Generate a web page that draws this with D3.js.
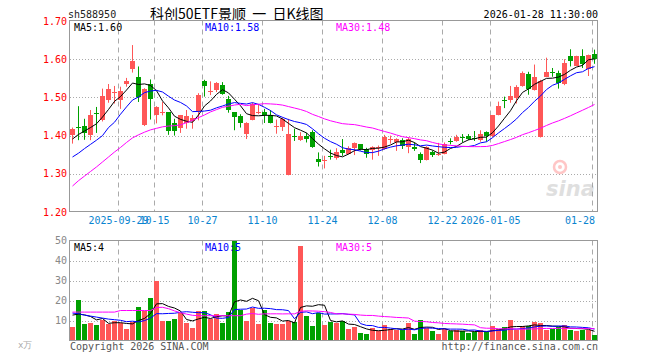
<!DOCTYPE html>
<html>
<head>
<meta charset="utf-8">
<script src="https://cdn.jsdelivr.net/npm/d3@7.9.0/dist/d3.min.js"></script>
<style>
  body { margin: 0; background: #fff; }
  text { font-family: "DejaVu Sans Mono", monospace; font-size: 10px; }
</style>
</head>
<body>
<svg id="chart" width="660" height="360"></svg>
<script>
// trading days shown on the chart
const dates = [
  '2025-09-17','2025-09-18','2025-09-19','2025-09-22','2025-09-23','2025-09-24','2025-09-25','2025-09-26','2025-09-29','2025-09-30',
  '2025-10-09','2025-10-10','2025-10-13','2025-10-14','2025-10-15','2025-10-16','2025-10-17','2025-10-20','2025-10-21','2025-10-22',
  '2025-10-23','2025-10-24','2025-10-27','2025-10-28','2025-10-29','2025-10-30','2025-10-31',
  '2025-11-03','2025-11-04','2025-11-05','2025-11-06','2025-11-07','2025-11-10','2025-11-11','2025-11-12','2025-11-13','2025-11-14',
  '2025-11-17','2025-11-18','2025-11-19','2025-11-20','2025-11-21','2025-11-24','2025-11-25','2025-11-26','2025-11-27','2025-11-28',
  '2025-12-01','2025-12-02','2025-12-03','2025-12-04','2025-12-05','2025-12-08','2025-12-09','2025-12-10','2025-12-11','2025-12-12',
  '2025-12-15','2025-12-16','2025-12-17','2025-12-18','2025-12-19','2025-12-22','2025-12-23','2025-12-24','2025-12-25','2025-12-26',
  '2025-12-29','2025-12-30','2025-12-31',
  '2026-01-05','2026-01-06','2026-01-07','2026-01-08','2026-01-09','2026-01-12','2026-01-13','2026-01-14','2026-01-15','2026-01-16',
  '2026-01-19','2026-01-20','2026-01-21','2026-01-22','2026-01-23','2026-01-26','2026-01-27','2026-01-28'
];

const open = [
  1.401,1.423,1.425,1.400,1.459,1.440,1.493,1.512,1.493,1.533,
  1.575,1.554,1.428,1.535,1.453,1.460,1.461,1.432,1.418,1.433,
  1.440,1.465,1.542,1.517,1.519,1.532,1.495,
  1.461,1.451,1.404,1.442,1.461,1.461,1.453,1.424,1.423,1.298,
  1.398,1.389,1.398,1.409,1.340,1.335,1.346,1.339,1.361,1.353,
  1.368,1.377,1.365,1.361,1.367,1.365,1.389,1.384,1.389,1.370,
  1.370,1.353,1.337,1.356,1.350,1.353,1.386,1.386,1.397,1.398,
  1.393,1.389,1.409,
  1.400,1.454,1.494,1.493,1.500,1.530,1.561,1.519,1.396,1.554,
  1.567,1.563,1.533,1.609,1.584,1.609,1.575,1.614
];
const high = [
  1.421,1.477,1.444,1.467,1.475,1.523,1.535,1.530,1.528,1.551,
  1.637,1.581,1.524,1.547,1.477,1.488,1.461,1.444,1.454,1.467,
  1.454,1.511,1.546,1.542,1.540,1.540,1.504,
  1.461,1.456,1.435,1.486,1.482,1.470,1.467,1.442,1.447,1.444,
  1.418,1.409,1.407,1.414,1.356,1.347,1.363,1.367,1.391,1.372,
  1.382,1.377,1.368,1.372,1.374,1.402,1.400,1.393,1.393,1.395,
  1.382,1.356,1.372,1.361,1.381,1.382,1.393,1.402,1.404,1.404,
  1.412,1.414,1.411,
  1.454,1.489,1.502,1.530,1.532,1.568,1.567,1.586,1.546,1.604,
  1.577,1.570,1.600,1.626,1.609,1.626,1.612,1.625
];
const low = [
  1.379,1.388,1.389,1.388,1.407,1.437,1.486,1.484,1.470,1.528,
  1.565,1.488,1.425,1.442,1.432,1.453,1.402,1.400,1.407,1.418,
  1.418,1.440,1.502,1.506,1.514,1.507,1.460,
  1.414,1.421,1.391,1.440,1.456,1.433,1.432,1.405,1.412,1.296,
  1.386,1.386,1.382,1.368,1.319,1.314,1.337,1.337,1.347,1.351,
  1.349,1.361,1.342,1.337,1.347,1.363,1.379,1.360,1.365,1.354,
  1.360,1.328,1.335,1.344,1.347,1.351,1.377,1.384,1.382,1.388,
  1.386,1.384,1.384,
  1.396,1.453,1.472,1.486,1.484,1.528,1.507,1.518,1.395,1.553,
  1.554,1.523,1.532,1.581,1.582,1.577,1.556,1.588
];
const close = [
  1.416,1.422,1.407,1.453,1.457,1.504,1.521,1.513,1.516,1.542,
  1.596,1.502,1.521,1.495,1.475,1.461,1.411,1.412,1.453,1.451,
  1.447,1.507,1.530,1.518,1.537,1.509,1.465,
  1.447,1.433,1.433,1.484,1.462,1.453,1.433,1.425,1.444,1.405,
  1.397,1.400,1.389,1.370,1.332,1.336,1.345,1.356,1.353,1.368,
  1.381,1.363,1.351,1.370,1.370,1.396,1.390,1.391,1.372,1.391,
  1.365,1.337,1.370,1.347,1.351,1.379,1.385,1.396,1.396,1.389,
  1.392,1.405,1.398,
  1.454,1.477,1.493,1.504,1.528,1.563,1.523,1.554,1.542,1.567,
  1.566,1.537,1.589,1.596,1.609,1.588,1.611,1.600
];
// volume, 万手
const volume = [
  6.8,20.2,8.2,8.7,7.7,10.2,8.1,9.7,8.9,5.7,
  9.1,16.7,14.7,21.2,29.9,9.7,9.7,10.7,13.7,8.7,
  6.2,14.7,14.7,10.7,13.1,8.7,14.1,
  50,15.4,9.7,16.2,8.2,15.2,8.7,8.2,8.2,9.7,
  9.1,47.4,12.2,7.2,13.7,7.7,9.2,8.7,9.7,5.7,
  6.7,3.7,3.2,6.2,4.7,7.7,5.7,5.2,5.2,8.7,
  3.2,10.2,6.2,4.7,3.2,5.7,4.7,5.2,4.7,3.7,
  4.2,5.2,4.2,
  7.2,5.7,6.7,10.2,5.2,7.2,7.2,9.2,8.7,5.2,
  5.7,6.7,7.7,5.2,4.7,5.2,5.2,2.7
];

// moving-average values at the left edge (their earlier days are off the chart)
const ma5Start = [1.391, 1.403, 1.412, 1.421];
const ma10Start = [1.344, 1.354, 1.366, 1.377, 1.388, 1.400, 1.421, 1.435, 1.456];
const ma30Start = [
  1.268,1.282,1.294,1.306,1.318,1.331,1.344,1.357,1.369,1.382,
  1.394,1.402,1.409,1.415,1.419,1.423,1.425,1.426,1.428,1.434,
  1.440,1.447,1.454,1.462,1.468,1.474,1.477,1.480,1.482
];
const vma5Start = [12.7, 13.2, 12.8, 12.0];
const vma10Start = [13.7, 13.4, 12.7, 12.2, 11.7, 11.2, 10.7, 10.4, 10.1];
const vma30Start = [
  14.2,14.2,14.2,14.2,14.2,14.2,14.2,14.2,15.0,15.0,
  15.0,15.0,15.0,15.0,16.5,16.6,15.9,14.8,13.9,13.2,
  12.6,12.4,12.4,12.4,12.4,12.4,12.4,12.4,12.4
];

const priceTicks = [1.70, 1.60, 1.50, 1.40, 1.30, 1.20];
const volTicks = [50, 40, 30, 20, 10];
const tickDates = ['2025-09-29','2025-10-15','2025-10-27','2025-11-10','2025-11-24','2025-12-08','2025-12-22','2026-01-05','2026-01-28'];
const tickLabels = ['2025-09-29','10-15','10-27','11-10','11-24','12-08','12-22','2026-01-05','01-28'];

const priceLegend = ['MA5:1.60', 'MA10:1.58', 'MA30:1.48'];
const volLegend = ['MA5:4', 'MA10:5', 'MA30:5'];

const RED = '#ff5757', GREEN = '#00a000', GRID = '#aaa', BORDER = '#999';
const maColors = ['#000', '#0000ff', '#ff00ff'];

const svg = d3.select('#chart');

const x = d3.scaleBand().domain(dates).range([69.5, 597.5]);
const cx = (d) => x(d) + 3;
const y = d3.scaleLinear().domain([1.2, 1.7]).range([212, 21]);
const yv = d3.scaleLinear().domain([0, 50]).range([340.5, 240.5]);
const crisp = (v) => Math.round(v) + 0.5;

function movingAvg(values, n, start) {
  return values.map((v, i) => i < n - 1 ? start[i] : d3.mean(values.slice(i - n + 1, i + 1)));
}

// header
svg.append('text').attr('x', 68).attr('y', 18).attr('fill', '#222').text('sh588950');
svg.append('text').attr('x', 150).attr('y', 19)
  .style('font-family', '"Noto Sans CJK SC", sans-serif').style('font-size', '14px')
  .attr('fill', '#000').attr('xml:space', 'preserve').text('科创50ETF景顺  一  日K线图');
svg.append('text').attr('x', 598).attr('y', 18).attr('text-anchor', 'end').attr('fill', '#000')
  .text('2026-01-28 11:30:00');

function drawFrame(top, bottom, yScale, ticks, labelColor, fmt) {
  const g = svg.append('g');
  ticks.forEach((t) => {
    const yy = crisp(yScale(t));
    if (yy > top + 1 && yy < bottom - 1) {
      g.append('line').attr('x1', 70).attr('x2', 597).attr('y1', yy).attr('y2', yy)
        .attr('stroke', GRID).attr('stroke-dasharray', '1,2');
    }
    g.append('text').attr('x', 67).attr('y', yScale(t)).attr('dy', '0.35em')
      .attr('text-anchor', 'end').attr('fill', labelColor).text(fmt(t));
  });
  tickDates.forEach((d) => {
    g.append('line').attr('x1', x(d) + 1).attr('x2', x(d) + 1).attr('y1', top).attr('y2', bottom)
      .attr('stroke', GRID).attr('stroke-dasharray', '5,4');
  });
  g.append('rect').attr('x', 69.5).attr('y', top).attr('width', 528).attr('height', bottom - top)
    .attr('fill', 'none').attr('stroke', BORDER);
}

drawFrame(20.5, 211.5, y, priceTicks, '#f00', d3.format('.2f'));
drawFrame(240.5, 340.5, yv, volTicks, '#888', d3.format('d'));

// x axis labels
tickDates.forEach((d, i) => {
  const t = svg.append('text').attr('x', x(d) + 1).attr('y', 224).attr('text-anchor', 'middle')
    .attr('fill', '#0a84d0').text(tickLabels[i]);
  if (i === tickDates.length - 1) t.attr('x', 595).attr('text-anchor', 'end');
});

// sina watermark
const wm = svg.append('g').attr('opacity', 0.3);
wm.append('circle').attr('cx', 560).attr('cy', 167).attr('r', 6).attr('fill', 'none').attr('stroke', '#f44').attr('stroke-width', 2.5);
wm.append('circle').attr('cx', 560).attr('cy', 167).attr('r', 2).attr('fill', '#f44');
wm.append('text').attr('x', 546).attr('y', 196).style('font-family', '"DejaVu Sans", sans-serif')
  .style('font-size', '21px').style('font-style', 'italic').style('font-weight', 'bold')
  .attr('fill', '#999').text('sina');

// candles
const candles = svg.append('g');
dates.forEach((d, i) => {
  const up = close[i] > open[i];
  const col = up ? RED : GREEN;
  const c = cx(d);
  candles.append('line').attr('x1', c).attr('x2', c).attr('y1', y(high[i])).attr('y2', y(low[i]))
    .attr('stroke', col);
  const top = y(Math.max(open[i], close[i]));
  const h = Math.abs(y(open[i]) - y(close[i]));
  candles.append('rect').attr('x', x(d) + 0.5).attr('y', Math.round(top))
    .attr('width', 5).attr('height', Math.max(1, Math.round(h)))
    .attr('fill', col);
});

// price moving averages
const maLine = d3.line().x((v, i) => cx(dates[i])).y((v) => y(v));
[movingAvg(close, 5, ma5Start), movingAvg(close, 10, ma10Start), movingAvg(close, 30, ma30Start)]
  .forEach((ma, k) => {
    svg.append('path').attr('d', maLine(ma)).attr('fill', 'none').attr('stroke', maColors[k]).attr('stroke-width', 1);
  });

// volume bars
const vols = svg.append('g');
dates.forEach((d, i) => {
  const col = close[i] > open[i] ? RED : GREEN;
  vols.append('rect').attr('x', x(d) + 0.5).attr('y', Math.round(yv(volume[i])))
    .attr('width', 5).attr('height', 340 - Math.round(yv(volume[i])))
    .attr('fill', col);
});

const vmaLine = d3.line().x((v, i) => cx(dates[i])).y((v) => yv(v));
[movingAvg(volume, 5, vma5Start), movingAvg(volume, 10, vma10Start), movingAvg(volume, 30, vma30Start)]
  .forEach((ma, k) => {
    svg.append('path').attr('d', vmaLine(ma)).attr('fill', 'none').attr('stroke', maColors[k]).attr('stroke-width', 1);
  });

// legends
const legendX = [74, 205, 336];
priceLegend.forEach((s, k) => {
  svg.append('text').attr('x', legendX[k]).attr('y', 31).attr('fill', maColors[k]).text(s);
});
volLegend.forEach((s, k) => {
  svg.append('text').attr('x', legendX[k]).attr('y', 251).attr('fill', maColors[k]).text(s);
});

// footer
svg.append('text').attr('x', 18).attr('y', 348).attr('fill', '#aaa').style('font-size', '9px').text('x万');
svg.append('text').attr('x', 70).attr('y', 350).attr('fill', '#555').text('Copyright 2026 SINA.COM');
svg.append('text').attr('x', 598).attr('y', 350).attr('text-anchor', 'end').attr('fill', '#555')
  .text('http://finance.sina.com.cn');
</script>
</body>
</html>
